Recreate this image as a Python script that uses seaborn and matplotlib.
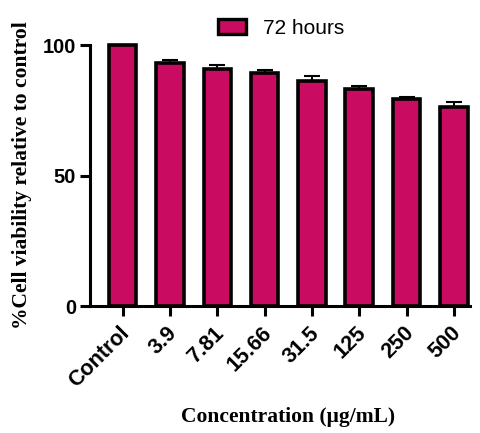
import matplotlib
matplotlib.use("Agg")
import matplotlib.pyplot as plt
import matplotlib.transforms as mtransforms
import seaborn as sns
import pandas as pd
import numpy as np
from matplotlib.patches import Patch

categories = ["Control", "3.9", "7.81", "15.66", "31.5", "125", "250", "500"]
viability = [100.0, 93.0, 91.0, 89.2, 86.2, 83.3, 79.2, 76.4]
sd = [0.3, 1.3, 1.5, 1.2, 2.0, 1.2, 1.0, 1.6]
series_label = "72 hours"
bar_color = "#C90C61"

df = pd.DataFrame({"Concentration": categories, "Viability": viability})

sns.set_theme(style="ticks")
plt.rcParams["font.family"] = ["Liberation Sans", "DejaVu Sans"]
plt.rcParams.update({"text.color": "black", "axes.labelcolor": "black",
                     "xtick.color": "black", "ytick.color": "black"})

fig = plt.figure(figsize=(4.81, 4.33), dpi=100)
ax = fig.add_axes([0.187, 0.293, 0.79, 0.603])

sns.barplot(data=df, x="Concentration", y="Viability", color=bar_color,
            width=0.58, edgecolor="black", linewidth=2.6, saturation=1,
            errorbar=None, ax=ax)
for p in ax.patches:
    p.set_clip_on(False)
x = np.arange(len(categories))
ax.errorbar(x, viability, yerr=[np.zeros(len(sd)), sd], fmt="none",
            ecolor="black", elinewidth=1.5, capsize=5.5, capthick=1.5, zorder=5)

ax.set_xlim(-0.69, 7.34)
ax.set_ylim(0, 100)
ax.set_yticks([0, 50, 100])
sns.despine(ax=ax)
for s in ["left", "bottom"]:
    ax.spines[s].set_linewidth(2.2)
    ax.spines[s].set_color("black")
ax.tick_params(axis="both", width=2.2, length=7, color="black", labelcolor="black",
               direction="out", pad=3)
ax.set_xticks(x)
ax.set_xticklabels(categories, rotation=45, ha="right", va="center", rotation_mode="anchor",
                   fontsize=15.5, fontweight="bold", color="black")
offset = mtransforms.ScaledTranslation(4 / 100, -10 / 100, fig.dpi_scale_trans)
for lab in ax.get_xticklabels():
    lab.set_transform(lab.get_transform() + offset)
for lab in ax.get_yticklabels():
    lab.set_fontsize(14.5)
    lab.set_fontweight("bold")
    lab.set_color("black")

ax.set_xlabel("Concentration (μg/mL)", family=["Liberation Serif", "DejaVu Serif"],
              fontweight="bold", fontsize=15.5, color="black")
ax.xaxis.set_label_coords(0.522, -0.385)
ax.set_ylabel("%Cell viability relative to control", family=["Liberation Serif", "DejaVu Serif"],
              fontweight="bold", fontsize=15.5, va="center", color="black")
ax.yaxis.set_label_coords(-0.178, 0.5)

handle = Patch(facecolor=bar_color, edgecolor="black", linewidth=2.4)
leg = fig.legend([handle], [series_label], loc="upper center", bbox_to_anchor=(0.585, 1.0),
                 frameon=False, fontsize=15, handlelength=1.35, handleheight=0.75,
                 handletextpad=0.8)
for t in leg.get_texts():
    t.set_color("black")

fig.savefig("out.png", dpi=100)
